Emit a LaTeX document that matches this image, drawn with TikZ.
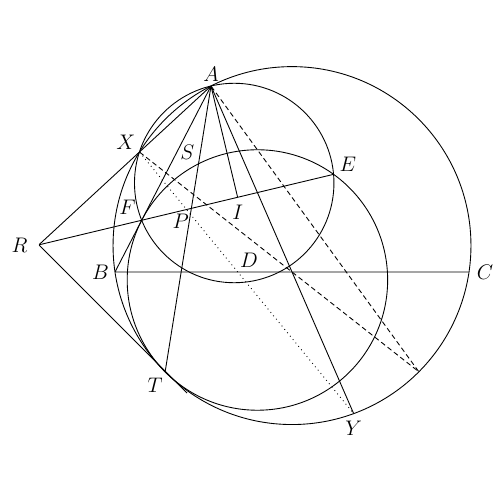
\documentclass[tikz,border=0pt]{standalone}
\usetikzlibrary{positioning}

\begin{document}
\begin{tikzpicture}[x=0.02cm,y=-0.02cm,line width=0.5pt]
    \tikzstyle{pt} = [circle,inner sep=0pt,minimum size=0pt]
    \tikzstyle{lbl} = [inner sep=1pt,font=\large]
    \tikzstyle{dsh} = [dash pattern=on 2.8pt off 1.8pt]

    \useasboundingbox (0,0) rectangle (500,500);

    % triangle and the points built on it
    \node (A) [pt] at (211,86) {};
    \node (B) [pt] at (115,272) {};
    \node (C) [pt] at (469,272) {};
    \node (O) [pt] at (292,245.58) {};
    \node (I) [pt] at (237.63,197.29) {};
    \node (D) [pt] at (237.63,272) {};
    \node (M) [pt] at (292,272) {};
    \node (K) [pt] at (257.42,279.99) {};
    \node (H) [pt] at (234.21,183.0) {};
    \node (T) [pt] at (165.13,371.82) {};
    \node (F) [pt] at (141.71,220.25) {};
    \node (E) [pt] at (333.55,174.35) {};
    \node (R) [pt] at (38.81,244.87) {};
    \node (X) [pt] at (139.45,152.02) {};
    \node (Y) [pt] at (353.67,413.57) {};
    \node (Z) [pt] at (418.86,371.78) {};
    \node (P) [pt] at (191.36,208.37) {};
    \node (S) [pt] at (198.5,163.85) {};
    \coordinate (T2) at (187,393);

    \node (lA) [lbl, above=1pt of A] {$A$};
    \node (lB) [lbl, left=2pt of B] {$B$};
    \node (lC) [lbl, right=3pt of C] {$C$};
    \node (lD) [lbl, above right=1pt and 0pt of D] {$D$};
    \node (lE) [lbl, above right=0pt and 2pt of E] {$E$};
    \node (lF) [lbl, above left=2pt and 2pt of F] {$F$};
    \node (lI) [lbl, below=3pt of I] {$I$};
    \node (lP) [lbl, below left=2pt and 0pt of P] {$P$};
    \node (lS) [lbl, above left=1pt and 1pt of S] {$S$};
    \node (lR) [lbl, left=5pt of R] {$R$};
    \node (lT) [lbl, below left=2pt and 0pt of T] {$T$};
    \node (lX) [lbl, above left=0pt and 1pt of X] {$X$};
    \node (lY) [lbl, below=3pt of Y] {$Y$};

    \draw (O) circle [radius=178.96];
    \draw (K) circle [radius=130.23];
    \draw (H) circle [radius=99.73];

    \draw (A) -- (B) -- (C) -- cycle;
    \draw (R) -- (A);
    \draw (R) -- (E);
    \draw (R) -- (T2);
    \draw (A) -- (T);
    \draw (A) -- (I);
    \draw (A) -- (Y);

    \draw [dsh] (A) -- (Z);
    \draw [dsh] (X) -- (Z);
    \draw [dotted] (X) -- (Y);
\end{tikzpicture}
\end{document}
